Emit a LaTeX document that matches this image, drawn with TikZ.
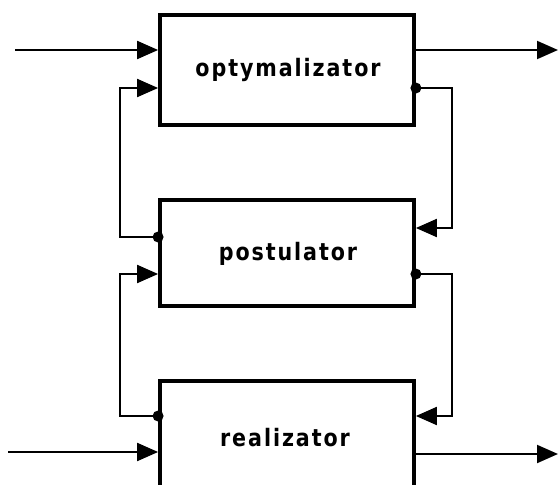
\documentclass[tikz,border=0pt]{standalone}
\usepackage{fontspec}
\usetikzlibrary{arrows.meta}
\newfontfamily\labelfont{DejaVu Sans Bold}[LetterSpace=8, FakeStretch=0.86]

\tikzset{
  block/.style={draw, line width=3.8pt, minimum width=254pt, inner sep=0pt},
  label text/.style={font=\labelfont\fontsize{24}{25}\selectfont, anchor=base, inner sep=0pt},
  signal/.style={line width=2pt, -{Triangle[length=21pt,width=18pt]}},
  tap/.style={fill, circle, minimum size=11pt, inner sep=0pt}
}

\begin{document}
\begin{tikzpicture}[x=1pt, y=-1pt]
  \useasboundingbox (0,0) rectangle (558,485);
  \fill[white] (0,0) rectangle (558,485);
  \clip (0,0) rectangle (558,485);

  % blocks
  \node[block, minimum height=110pt] (opt) at (287,70) {};
  \node[block, minimum height=106pt] (post) at (287,253) {};
  \node[block, minimum height=144pt] (real) at (287,453) {};

  % block labels
  \node[label text] (optL) at (288,76) {optymalizator};
  \node[label text] (postL) at (288,260) {postulator};
  \node[label text] (realL) at (285,446) {realizator};

  % outer inputs and outputs
  \coordinate (inA) at (15,50);
  \coordinate (outA) at (558,50);
  \coordinate (inC) at (8,452);
  \coordinate (outC) at (558,454);
  \draw[signal] (inA) -- (inA -| opt.west);
  \draw[signal] (outA -| opt.east) -- (outA);
  \draw[signal] (inC) -- (inC -| real.west);
  \draw[signal] (outC -| real.east) -- (outC);

  % feedback routes
  \coordinate (lbus) at (120,0);
  \coordinate (rbus) at (452,0);
  \coordinate (yA) at (0,88);
  \coordinate (yB) at (0,237);
  \coordinate (yC) at (0,228);
  \coordinate (yD) at (0,274);
  \coordinate (yE) at (0,416);

  % postulator -> optymalizator (left)
  \node[tap] (tapPL) at (yB -| post.west) {};
  \draw[signal] (tapPL.center) -| (lbus |- yA) -- (yA -| opt.west);

  % optymalizator -> postulator (right)
  \node[tap] (tapOR) at (yA -| opt.east) {};
  \draw[signal] (tapOR.center) -| (rbus |- yC) -- (yC -| post.east);

  % realizator -> postulator (left)
  \node[tap] (tapRL) at (yE -| real.west) {};
  \draw[signal] (tapRL.center) -| (lbus |- yD) -- (yD -| post.west);

  % postulator -> realizator (right)
  \node[tap] (tapPR) at (yD -| post.east) {};
  \draw[signal] (tapPR.center) -| (rbus |- yE) -- (yE -| real.east);
\end{tikzpicture}
\end{document}
